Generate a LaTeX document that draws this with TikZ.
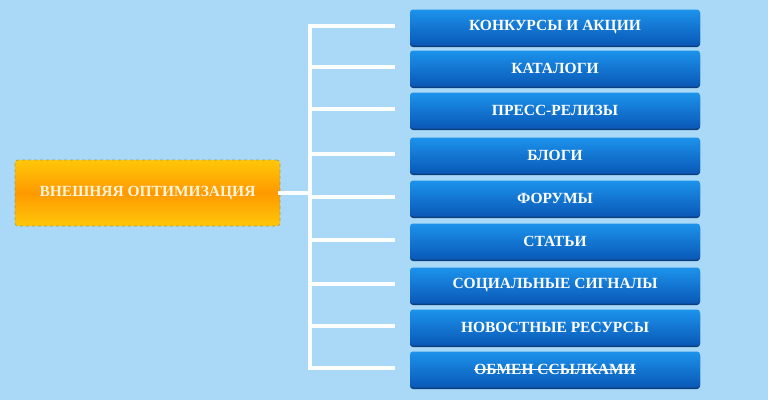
\documentclass[tikz,border=0pt]{standalone}
\usepackage{fontspec}
\setmainfont{Liberation Serif}
\usetikzlibrary{shadows}
\definecolor{sky}{HTML}{A9D9F6}
\definecolor{btntop}{HTML}{1C93EC}
\definecolor{btnbot}{HTML}{0A58B6}
\definecolor{btnedge}{HTML}{0B3F7E}
\definecolor{ortop}{HTML}{FFC708}
\definecolor{ormid}{HTML}{FF9900}
\definecolor{cream}{HTML}{FFF4D8}
\newcommand\struck[1]{\setbox0\hbox{#1}\rlap{\copy0}\rule[0.3em]{\wd0}{0.9pt}}
\tikzset{
  item/.style={rounded corners=3pt, minimum width=290pt, minimum height=36pt,
    top color=btntop, bottom color=btnbot, text=white,
    font=\fontsize{15.5}{17}\selectfont\bfseries,
    drop shadow={shadow xshift=0pt, shadow yshift=-1.5pt, fill=btnedge, opacity=1}},
  root/.style={rounded corners=3pt, minimum width=265pt, minimum height=66pt,
    top color=ortop, bottom color=ortop, middle color=ormid,
    draw=black!45!olive!60, dashed, line width=0.6pt, text=cream,
    font=\fontsize{15.5}{17}\selectfont\bfseries},
  wire/.style={draw=white!97!sky, line width=4pt, line cap=rect}
}
\begin{document}
\begin{tikzpicture}[x=1pt, y=-1pt]
    \fill[sky] (0,0) rectangle (768,400);
    \useasboundingbox (0,0) rectangle (768,400);
    \node[root] (main) at (147.5,193) {ВНЕШНЯЯ ОПТИМИЗАЦИЯ};
    \foreach \y/\t [count=\i] in {27.5/КОНКУРСЫ И АКЦИИ, 68.5/КАТАЛОГИ, 110.5/ПРЕСС-РЕЛИЗЫ,
        155.5/БЛОГИ, 198.5/ФОРУМЫ, 241.5/СТАТЬИ, 285.5/СОЦИАЛЬНЫЕ СИГНАЛЫ,
        327.5/НОВОСТНЫЕ РЕСУРСЫ, 369.5/\struck{ОБМЕН ССЫЛКАМИ}}{
        \node[item] (b\i) at (555,\y) {\t};
    }
    \coordinate (trunk) at (310,193);
    \draw[wire] ([yshift=1.5pt]trunk |- b1.west) -- ([yshift=1.5pt]trunk |- b9.west);
    \draw[wire] (main.east) -- (trunk);
    \foreach \i in {1,...,9}{
        \draw[wire] ([yshift=1.5pt]trunk |- b\i.west) -- ([xshift=-17pt,yshift=1.5pt]b\i.west);
    }
\end{tikzpicture}
\end{document}
